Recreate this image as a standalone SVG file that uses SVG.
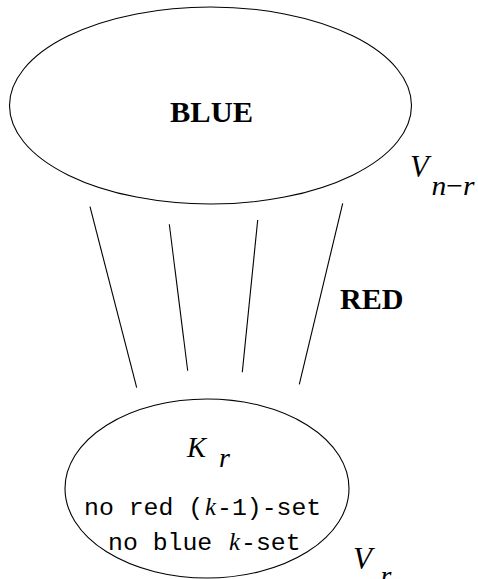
<svg xmlns="http://www.w3.org/2000/svg" width="478" height="579" viewBox="0 0 478 579">
<style>
.shape{fill:none;stroke:#000;stroke-width:1.1}
.edge{stroke:#000;stroke-width:1.1;fill:none}
.bold{font-family:"Liberation Serif",serif;font-weight:bold;font-size:28.5px;fill:#000}
.math{font-family:"Liberation Serif",serif;font-style:italic;fill:#000}
.mono{font-family:"Liberation Mono",monospace;font-size:24.8px;fill:#000}
</style>
<rect width="478" height="579" fill="#fff"/>
<g id="blue-set">
<ellipse class="shape" cx="210.5" cy="105.5" rx="201" ry="98.5"/>
<text class="bold" x="211.5" y="122" text-anchor="middle" textLength="83" lengthAdjust="spacingAndGlyphs">BLUE</text>
<text class="math" x="410" y="177" font-size="30.5">V</text>
<text class="math" x="431.5" y="195" font-size="28" textLength="43" lengthAdjust="spacingAndGlyphs">n<tspan font-style="normal">−</tspan>r</text>
</g>
<g id="red-set">
<ellipse class="shape" cx="207" cy="488.5" rx="142" ry="89.5"/>
<text class="math" x="187" y="457" font-size="28.5">K</text>
<text class="math" x="219" y="467" font-size="28">r</text>
<text class="mono" x="84" y="515">no red (<tspan class="math" dx="2">k</tspan><tspan dx="1">-1)-set</tspan></text>
<text class="mono" x="108" y="550">no blue <tspan class="math" dx="2">k</tspan><tspan dx="1">-set</tspan></text>
<text class="math" x="353" y="569" font-size="31">V</text>
<text class="math" x="380.5" y="585" font-size="28">r</text>
</g>
<g id="connectors">
<line class="edge" x1="90" y1="206.7" x2="136.7" y2="387.7"/>
<line class="edge" x1="169.3" y1="224.3" x2="187.7" y2="370.7"/>
<line class="edge" x1="257.7" y1="220" x2="242.3" y2="372.3"/>
<line class="edge" x1="342.7" y1="203.3" x2="299.3" y2="384.3"/>
<text class="bold" x="340" y="309.3" textLength="63.5" lengthAdjust="spacingAndGlyphs">RED</text>
</g>
</svg>
